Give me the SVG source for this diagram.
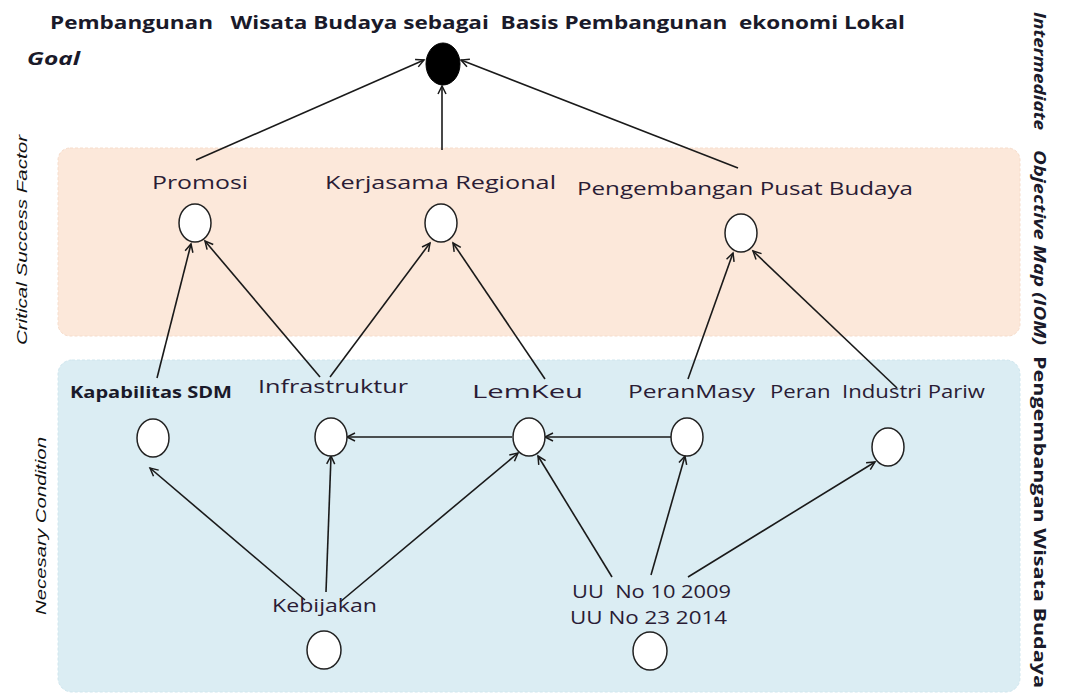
<svg xmlns="http://www.w3.org/2000/svg" width="1066" height="696" viewBox="0 0 1066 696">
<style>
.lbl{font-family:"Open Sans","Liberation Sans",sans-serif;font-size:18px;fill:#2a1c35}
.bold{font-family:"Open Sans","Liberation Sans",sans-serif;font-weight:bold;fill:#1a1a2a}
.side{font-family:"Liberation Sans",sans-serif;font-style:italic;font-size:15px;fill:#111}
.node{fill:#fff;stroke:#222;stroke-width:1.5}
.edge{stroke:#1a1a1a;stroke-width:1.6;fill:none;marker-end:url(#arr)}
</style>
<defs>
<marker id="arr" markerWidth="12" markerHeight="12" refX="9" refY="5" orient="auto" markerUnits="userSpaceOnUse">
<path d="M1,1 L9,5 L1,9" fill="none" stroke="#1a1a1a" stroke-width="1.5"/>
</marker>
</defs>
<rect width="1066" height="696" fill="#fff"/>
<rect x="58" y="148" width="962" height="188" rx="12" fill="#fce8da" stroke="#f6dccb" stroke-dasharray="3 2"/>
<rect x="58" y="360" width="962" height="332" rx="14" fill="#dbedf3" stroke="#cfe6ee" stroke-dasharray="3 2"/>
<text class="bold" x="50" y="29" font-size="18" xml:space="preserve" textLength="855" lengthAdjust="spacingAndGlyphs">Pembangunan   Wisata Budaya sebagai  Basis Pembangunan  ekonomi Lokal</text>
<text class="bold" x="27" y="65" font-size="17" font-style="italic" textLength="53" lengthAdjust="spacingAndGlyphs">Goal</text>
<text class="side" transform="translate(27,345) rotate(-90)" textLength="210" lengthAdjust="spacingAndGlyphs">Critical Success Factor</text>
<text class="side" transform="translate(46,615) rotate(-90)" textLength="178" lengthAdjust="spacingAndGlyphs">Necesary Condition</text>
<g id="sidetitle">
<text class="bold" font-size="16" font-style="italic" transform="translate(1034,12) rotate(90)" textLength="118" lengthAdjust="spacingAndGlyphs">Intermediate</text>
<text class="bold" font-size="16" font-style="italic" transform="translate(1034,150) rotate(90)" textLength="195" lengthAdjust="spacingAndGlyphs">Objective Map (IOM)</text>
<text class="bold" font-size="16" transform="translate(1034,356) rotate(90)" textLength="332" lengthAdjust="spacingAndGlyphs">Pengembangan Wisata Budaya</text>
</g>
<g id="connectors">
<line class="edge" x1="196" y1="160" x2="424" y2="60"/>
<line class="edge" x1="442" y1="150" x2="442" y2="86"/>
<line class="edge" x1="738" y1="168" x2="461" y2="60"/>
<line class="edge" x1="157" y1="378" x2="191" y2="244"/>
<line class="edge" x1="320" y1="377" x2="205" y2="241"/>
<line class="edge" x1="330" y1="377" x2="430" y2="243"/>
<line class="edge" x1="545" y1="379" x2="453" y2="243"/>
<line class="edge" x1="688" y1="379" x2="733" y2="253"/>
<line class="edge" x1="897" y1="388" x2="753" y2="251"/>
<line class="edge" x1="512" y1="437" x2="347" y2="437"/>
<line class="edge" x1="671" y1="437" x2="545" y2="437"/>
<line class="edge" x1="305" y1="600" x2="150" y2="468"/>
<line class="edge" x1="326" y1="592" x2="331" y2="456"/>
<line class="edge" x1="340" y1="602" x2="518" y2="453"/>
<line class="edge" x1="612" y1="577" x2="538" y2="456"/>
<line class="edge" x1="651" y1="575" x2="685" y2="456"/>
<line class="edge" x1="688" y1="577" x2="875" y2="462"/>
</g>
<g id="goal"><ellipse cx="443" cy="64" rx="17" ry="21" fill="#000" stroke="#000"/></g>
<g id="promosi"><text class="lbl" x="152" y="189" textLength="96" lengthAdjust="spacingAndGlyphs">Promosi</text><ellipse class="node" cx="195" cy="223" rx="16" ry="19"/></g>
<g id="kerjasama"><text class="lbl" x="325" y="189" textLength="231" lengthAdjust="spacingAndGlyphs">Kerjasama Regional</text><ellipse class="node" cx="441" cy="223" rx="16" ry="19"/></g>
<g id="pusatbudaya"><text class="lbl" x="577" y="195" textLength="336" lengthAdjust="spacingAndGlyphs">Pengembangan Pusat Budaya</text><ellipse class="node" cx="741" cy="233" rx="16" ry="19"/></g>
<g id="sdm"><text class="bold" font-size="16" x="70" y="398" textLength="162" lengthAdjust="spacingAndGlyphs">Kapabilitas SDM</text><ellipse class="node" cx="153" cy="438" rx="16" ry="19"/></g>
<g id="infra"><text class="lbl" x="258" y="393" textLength="150" lengthAdjust="spacingAndGlyphs">Infrastruktur</text><ellipse class="node" cx="331" cy="437" rx="16" ry="19"/></g>
<g id="lemkeu"><text class="lbl" x="472" y="398" textLength="111" lengthAdjust="spacingAndGlyphs">LemKeu</text><ellipse class="node" cx="529" cy="437" rx="16" ry="19"/></g>
<g id="peranmasy"><text class="lbl" x="628" y="398" textLength="127" lengthAdjust="spacingAndGlyphs">PeranMasy</text><ellipse class="node" cx="687" cy="437" rx="16" ry="19"/></g>
<g id="industri"><text class="lbl" x="770" y="398" xml:space="preserve" textLength="215" lengthAdjust="spacingAndGlyphs">Peran  Industri Pariw</text><ellipse class="node" cx="888" cy="447" rx="16" ry="19"/></g>
<g id="kebijakan"><text class="lbl" x="272" y="612" textLength="105" lengthAdjust="spacingAndGlyphs">Kebijakan</text><ellipse class="node" cx="324" cy="650" rx="17" ry="19"/></g>
<g id="uu"><text class="lbl" x="572" y="598" xml:space="preserve" textLength="159" lengthAdjust="spacingAndGlyphs">UU  No 10 2009</text><text class="lbl" x="570" y="624" textLength="157" lengthAdjust="spacingAndGlyphs">UU No 23 2014</text><ellipse class="node" cx="650" cy="651" rx="17" ry="19"/></g>
</svg>
